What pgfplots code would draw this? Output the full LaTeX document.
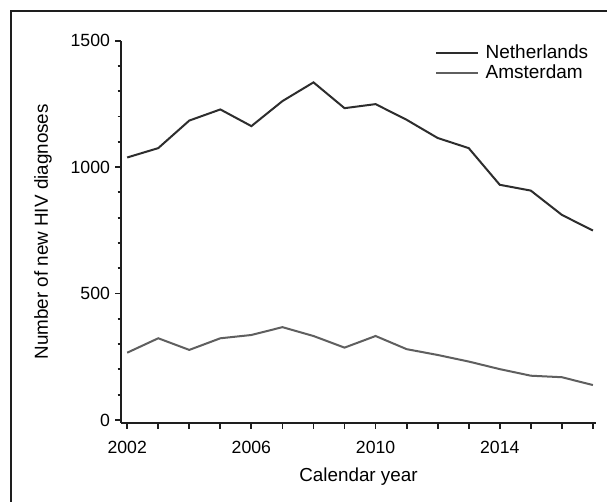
\documentclass[border=0pt]{standalone}
\usepackage{pgfplots}
\pgfplotsset{compat=1.18}
\usepackage{fontspec}
\setmainfont{Liberation Sans}
\definecolor{nlcol}{RGB}{45,45,45}
\definecolor{amcol}{RGB}{95,95,95}
\definecolor{axcol}{RGB}{30,30,30}
\begin{document}
\begin{tikzpicture}
\useasboundingbox (0,0) rectangle (364.2pt,301.2pt);
\fill[white] (0,0) rectangle (364.2pt,301.2pt);
\draw[line width=1.2pt, color=axcol] (6.6pt,-1pt) -- (6.6pt,294.6pt) -- (366pt,294.6pt);
\begin{axis}[
  at={(72.6pt,47.4pt)}, anchor=south west,
  scale only axis, width=285pt, height=229.4pt,
  xmin=2001.8, xmax=2017.1, ymin=-12, ymax=1500,
  axis x line=bottom, axis y line=left,
  axis line style={-, line width=1.1pt, color=axcol},
  xtick={2002,2006,2010,2014},
  extra x ticks={2003,2004,2005,2007,2008,2009,2011,2012,2013,2015,2016,2017},
  extra x tick labels={},
  extra x tick style={tick style={line width=1.1pt, color=axcol}},
  ytick={0,500,1000,1500},
  minor y tick num=4,
  tick align=outside,
  major tick length=3.6pt, minor tick length=2pt,
  tick style={line width=1.1pt, color=axcol},
  /pgf/number format/1000 sep={},
  /pgf/number format/assume math mode=true,
  tick label style={font=\fontsize{10.6}{13}\selectfont, text=black},
  xticklabel style={yshift=-3.5pt},
  yticklabel style={xshift=0.5pt},
  xlabel={Calendar year}, ylabel={Number of new HIV diagnoses},
  label style={font=\fontsize{11.3}{13}\selectfont},
  xlabel style={at={(axis description cs:0.5,-0.14)}, anchor=center},
  ylabel style={at={(axis description cs:-0.164,0.5)}, anchor=center, rotate=0},
  legend style={at={(axis description cs:0.661,0.995)}, anchor=north west, draw=none, fill=none,
    font=\fontsize{11.4}{13}\selectfont, row sep=0.5pt, inner sep=0pt,
    nodes={inner sep=1pt},
    /tikz/every odd column/.append style={column sep=3pt}},
  legend cell align=left,
  legend image code/.code={\draw[#1] (0pt,0pt) -- (25pt,0pt);},
]
\addplot[color=nlcol, line width=1.2pt] coordinates {
(2002,1038) (2003,1075) (2004,1184) (2005,1228) (2006,1162) (2007,1261)
(2008,1335) (2009,1233) (2010,1249) (2011,1187) (2012,1115) (2013,1075)
(2014,930) (2015,907) (2016,811) (2017,749)};
\addlegendentry{Netherlands}
\addplot[color=amcol, line width=1.2pt] coordinates {
(2002,266) (2003,323) (2004,277) (2005,323) (2006,336) (2007,367)
(2008,332) (2009,286) (2010,332) (2011,280) (2012,257) (2013,231)
(2014,201) (2015,175) (2016,169) (2017,138)};
\addlegendentry{Amsterdam}
\end{axis}
\end{tikzpicture}
\end{document}
